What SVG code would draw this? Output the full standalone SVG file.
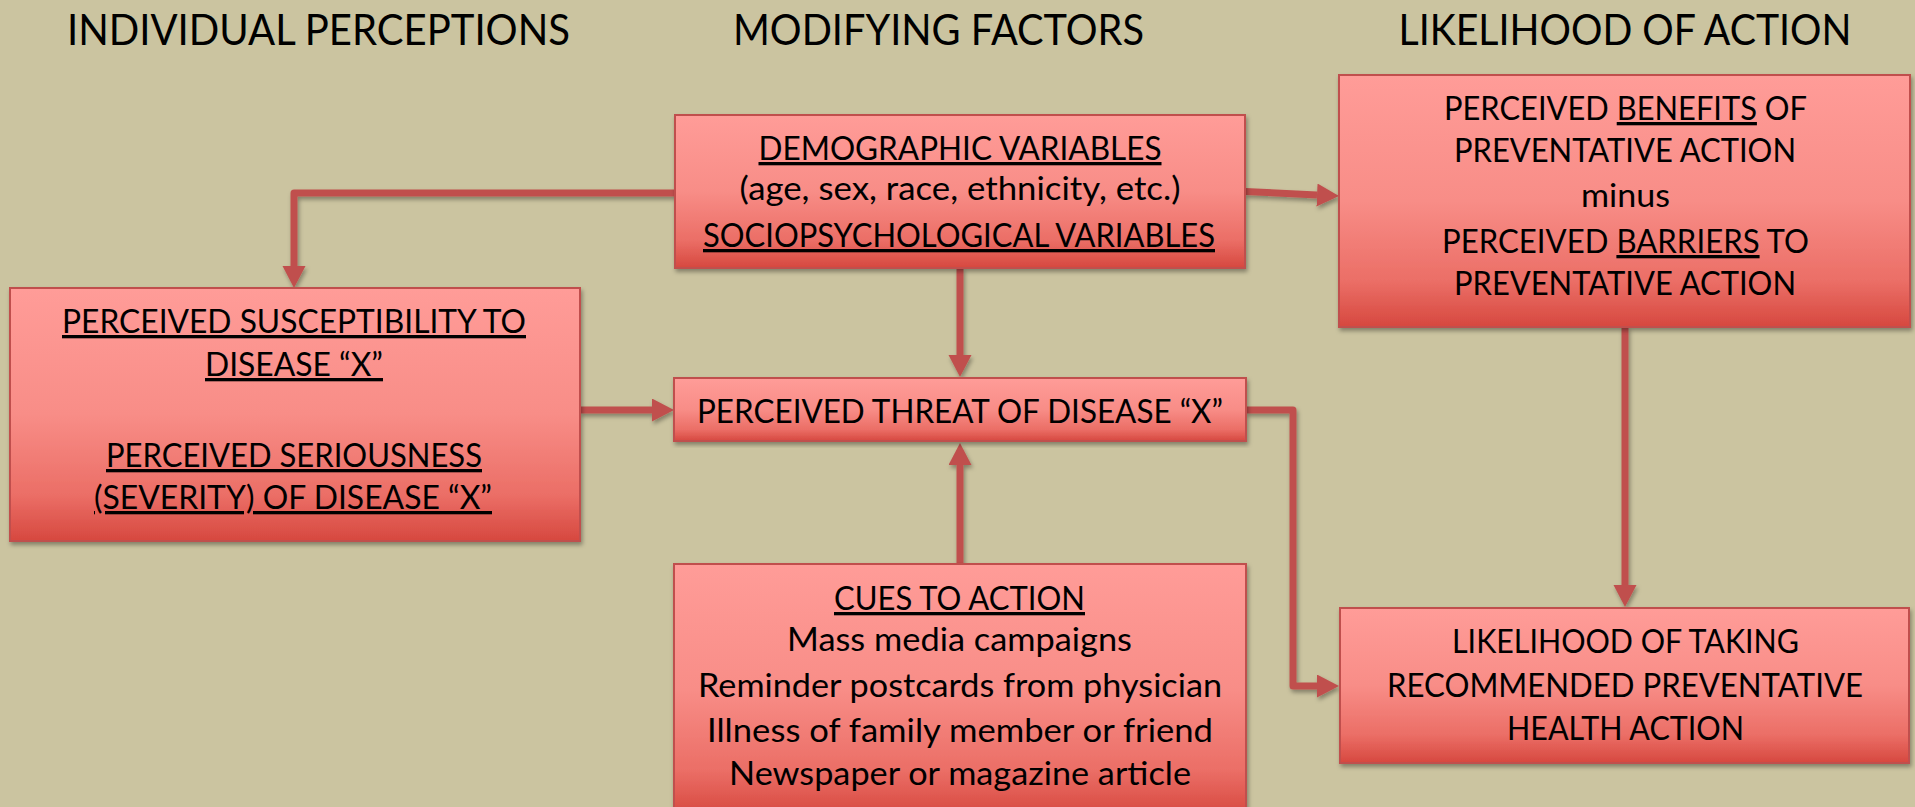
<svg xmlns="http://www.w3.org/2000/svg" width="1915" height="807" viewBox="0 0 1915 807">
  <defs>
    <linearGradient id="boxGrad" x1="0" y1="0" x2="0" y2="1">
      <stop offset="0" stop-color="#FF9C98"/>
      <stop offset="0.5" stop-color="#F88D87"/>
      <stop offset="0.82" stop-color="#EB6E66"/>
      <stop offset="1" stop-color="#D6483F"/>
    </linearGradient>
    <filter id="shadow" x="-5%" y="-5%" width="110%" height="115%">
      <feDropShadow dx="1.5" dy="3" stdDeviation="2" flood-color="#000" flood-opacity="0.35"/>
    </filter>
    <marker id="arrow" markerUnits="userSpaceOnUse" markerWidth="24" markerHeight="24" refX="0" refY="11.5" orient="auto" viewBox="0 0 24 24">
      <path d="M0,0 L22,11.5 L0,23 Z" fill="#C0504D"/>
    </marker>
    <style>
      .box { fill: url(#boxGrad); stroke: #C0504D; stroke-width: 2; filter: url(#shadow); }
      .t { font-family: Lato, "Open Sans", "Liberation Sans", sans-serif; font-size: 33px; fill: #000; text-anchor: middle; }
      .title { font-family: Lato, "Open Sans", "Liberation Sans", sans-serif; font-size: 43px; fill: #000; text-anchor: middle; }
      .u { text-decoration: underline; }
      .conn { fill: none; stroke: #C0504D; stroke-width: 7; stroke-linejoin: round; marker-end: url(#arrow); }
    </style>
  </defs>

  <rect x="0" y="0" width="1915" height="807" fill="#CBC4A0"/>

  <g id="titles">
    <text class="title" x="318.5" y="45" textLength="503" lengthAdjust="spacingAndGlyphs">INDIVIDUAL PERCEPTIONS</text>
    <text class="title" x="938.5" y="45" textLength="411" lengthAdjust="spacingAndGlyphs">MODIFYING FACTORS</text>
    <text class="title" x="1625" y="45" textLength="453" lengthAdjust="spacingAndGlyphs">LIKELIHOOD OF ACTION</text>
  </g>

  <g id="connectors" filter="url(#shadow)">
    <path class="conn" d="M675,193 H294 V266"/>
    <path class="conn" d="M960,268 V355"/>
    <path class="conn" d="M580,410 H652"/>
    <path class="conn" d="M1246,410 H1293 V686 H1317"/>
    <path class="conn" d="M1245,191.5 L1317,195"/>
    <path class="conn" d="M960,564 V465"/>
    <path class="conn" d="M1625,327 V585"/>
  </g>

  <g id="demographic">
    <rect class="box" x="675" y="115" width="570" height="153"/>
    <text class="t u" x="960" y="160" textLength="403" lengthAdjust="spacingAndGlyphs">DEMOGRAPHIC VARIABLES</text>
    <text class="t" x="960" y="200" textLength="441" lengthAdjust="spacingAndGlyphs">(age, sex, race, ethnicity, etc.)</text>
    <text class="t u" x="959" y="247" textLength="512" lengthAdjust="spacingAndGlyphs">SOCIOPSYCHOLOGICAL VARIABLES</text>
  </g>

  <g id="susceptibility">
    <rect class="box" x="10" y="288" width="570" height="253"/>
    <text class="t u" x="294" y="333" textLength="464" lengthAdjust="spacingAndGlyphs">PERCEIVED SUSCEPTIBILITY TO</text>
    <text class="t u" x="294" y="376" textLength="178" lengthAdjust="spacingAndGlyphs">DISEASE “X”</text>
    <text class="t u" x="294" y="467" textLength="376" lengthAdjust="spacingAndGlyphs">PERCEIVED SERIOUSNESS</text>
    <text class="t u" x="293" y="509" textLength="398" lengthAdjust="spacingAndGlyphs">(SEVERITY) OF DISEASE “X”</text>
  </g>

  <g id="threat">
    <rect class="box" x="674" y="378" width="572" height="63"/>
    <text class="t" x="960" y="423" textLength="526" lengthAdjust="spacingAndGlyphs">PERCEIVED THREAT OF DISEASE “X”</text>
  </g>

  <g id="cues">
    <rect class="box" x="674" y="564" width="572" height="252"/>
    <text class="t u" x="959.5" y="610" textLength="251" lengthAdjust="spacingAndGlyphs">CUES TO ACTION</text>
    <text class="t" x="959.5" y="651" textLength="345" lengthAdjust="spacingAndGlyphs">Mass media campaigns</text>
    <text class="t" x="960" y="697" textLength="524" lengthAdjust="spacingAndGlyphs">Reminder postcards from physician</text>
    <text class="t" x="960" y="742" textLength="506" lengthAdjust="spacingAndGlyphs">Illness of family member or friend</text>
    <text class="t" x="960" y="785" textLength="462" lengthAdjust="spacingAndGlyphs">Newspaper or magazine article</text>
  </g>

  <g id="benefits">
    <rect class="box" x="1339" y="75" width="571" height="252"/>
    <text class="t" x="1625.5" y="120" textLength="363" lengthAdjust="spacingAndGlyphs">PERCEIVED <tspan class="u">BENEFITS</tspan> OF</text>
    <text class="t" x="1625" y="162" textLength="342" lengthAdjust="spacingAndGlyphs">PREVENTATIVE ACTION</text>
    <text class="t" x="1625.5" y="207" textLength="89" lengthAdjust="spacingAndGlyphs">minus</text>
    <text class="t" x="1625.5" y="253" textLength="367" lengthAdjust="spacingAndGlyphs">PERCEIVED <tspan class="u">BARRIERS</tspan> TO</text>
    <text class="t" x="1625" y="295" textLength="342" lengthAdjust="spacingAndGlyphs">PREVENTATIVE ACTION</text>
  </g>

  <g id="likelihood">
    <rect class="box" x="1340" y="608" width="569" height="155"/>
    <text class="t" x="1625.5" y="653" textLength="347" lengthAdjust="spacingAndGlyphs">LIKELIHOOD OF TAKING</text>
    <text class="t" x="1625" y="697" textLength="476" lengthAdjust="spacingAndGlyphs">RECOMMENDED PREVENTATIVE</text>
    <text class="t" x="1625.5" y="740" textLength="237" lengthAdjust="spacingAndGlyphs">HEALTH ACTION</text>
  </g>
</svg>
